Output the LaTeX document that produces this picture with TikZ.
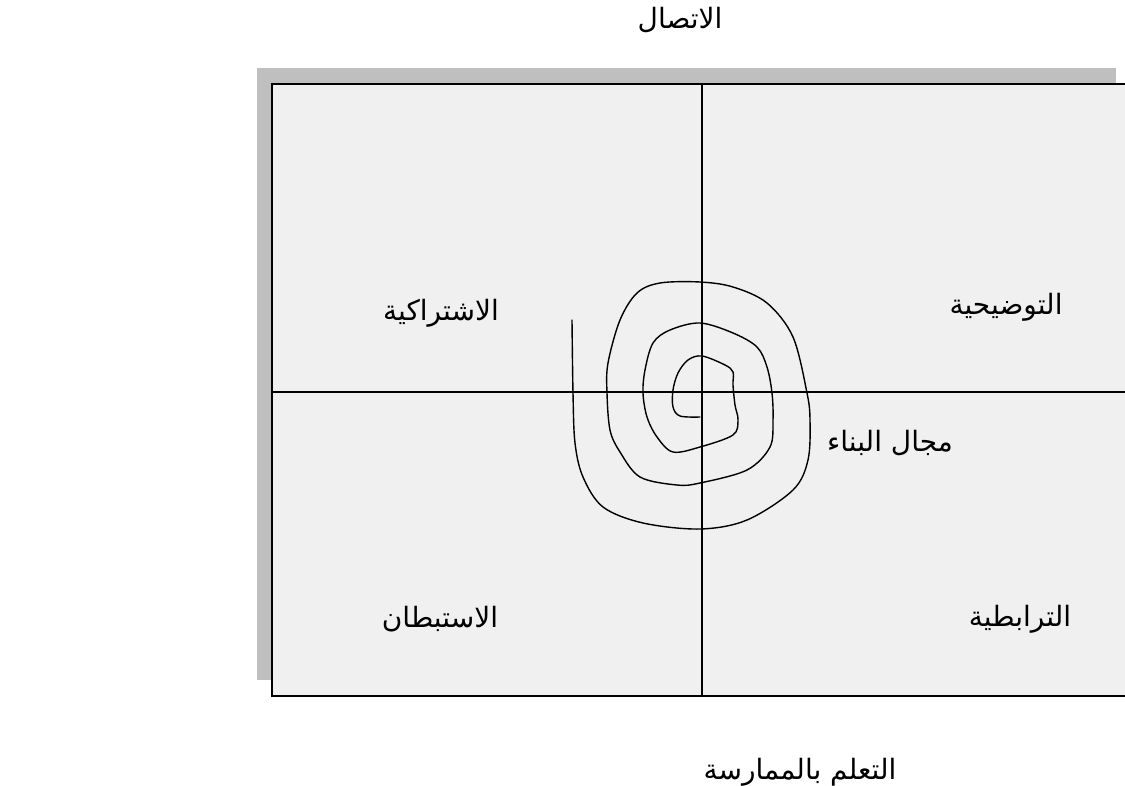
\documentclass[tikz,border=0pt]{standalone}
\usepackage{fontspec}
\newfontfamily\arabicfont[Script=Arabic]{DejaVu Sans}
\TeXXeTstate=1
\definecolor{panel}{HTML}{F0F0F0}
\definecolor{shadowgray}{HTML}{BFBFBF}
\tikzset{
  lbl/.style={inner sep=0pt, font=\arabicfont\fontsize{28}{32}\selectfont},
  divider/.style={line width=1.3pt, black},
  spiralline/.style={line width=1.4pt, black, line join=round, line cap=round}
}
\begin{document}
\begin{tikzpicture}[x=1pt,y=-1pt]
\useasboundingbox (0,0) rectangle (1125,785);
\fill[white] (0,0) rectangle (1125,785);
% shadow
\fill[shadowgray] (257,68) rectangle (1116,680);
% panel
\fill[panel] (272,84) rectangle (1125,696);
\draw[line width=2pt] (1126,84) -- (272,84) -- (272,696) -- (1126,696);
% dividers
\coordinate (vt) at (702,84);
\coordinate (vb) at (702,696);
\coordinate (hl) at (272,392);
\coordinate (hr) at (1125,392);
\draw[divider] (vt) -- (vb);
\draw[divider] (hl) -- (hr);
% spiral
\draw[spiralline] plot[smooth, tension=0.55] coordinates {
(572,320) (573,393) (575,443) (583,477) (603,507) (643,523) (700,529) (747,520) (793,490) (808,460) (810,420) (807,393) (793,337) (767,303) (733,287) (700,282) (660,283) (637,293) (620,320) (608,363) (607,393) (610,430) (620,452) (640,477) (677,485) (700,483) (747,470) (770,447) (773,420) (772,393) (767,367) (757,347) (733,333) (700,323) (670,330) (653,343) (645,370) (643,393) (647,417) (657,437) (673,452) (700,447) (733,435) (738,420) (735,405) (733,385) (733,372) (725,365) (702,356) (688,360) (678,373) (673,390) (673,407) (680,416) (700,417)};
% labels
\node[lbl] (top) at (680,20) {\beginR الاتصال\endR};
\node[lbl] (bottom) at (800,772) {\beginR التعلم بالممارسة\endR};
\node[lbl] (side) at (890,443) {\beginR مجال البناء\endR};
\node[lbl] (q1) at (441,313) {\beginR الاشتراكية\endR};
\node[lbl] (q2) at (1006,307) {\beginR التوضيحية\endR};
\node[lbl] (q3) at (440,619) {\beginR الاستبطان\endR};
\node[lbl] (q4) at (1020,619) {\beginR الترابطية\endR};
\end{tikzpicture}
\end{document}
